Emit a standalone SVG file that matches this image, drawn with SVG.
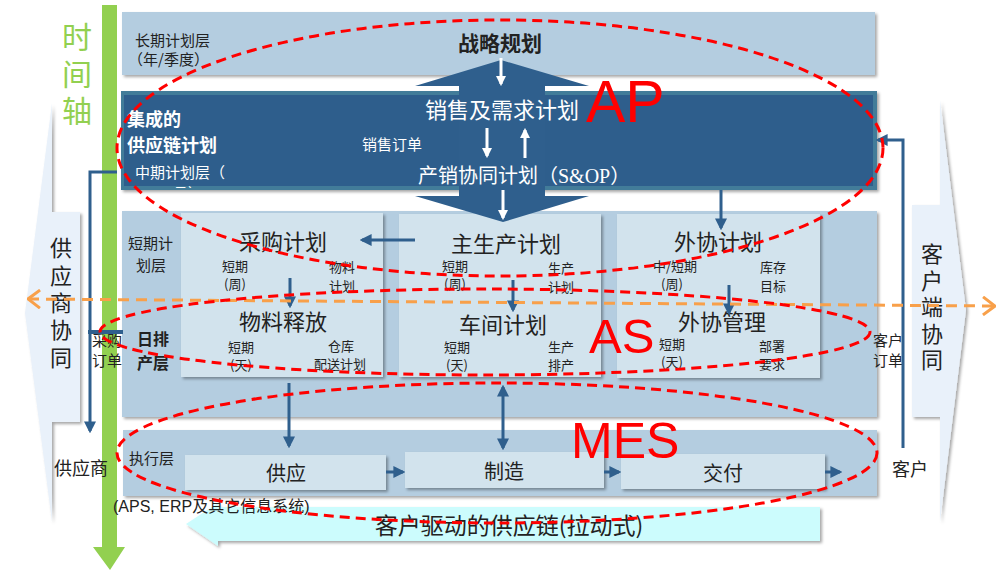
<svg xmlns="http://www.w3.org/2000/svg" width="1008" height="574" viewBox="0 0 1008 574">
<defs>
<filter id="sh" x="-5%" y="-5%" width="115%" height="140%"><feDropShadow dx="2" dy="2" stdDeviation="1.5" flood-color="#000" flood-opacity="0.35"/></filter>
<marker id="ab" viewBox="0 0 10 10" refX="8" refY="5" markerWidth="4" markerHeight="4" orient="auto-start-reverse"><path d="M0,0 L10,5 L0,10 z" fill="#2f5f8d"/></marker>
<marker id="aw" viewBox="0 0 10 10" refX="8" refY="5" markerWidth="3.5" markerHeight="3.5" orient="auto-start-reverse"><path d="M0,0 L10,5 L0,10 z" fill="#fff"/></marker>
<marker id="ao" viewBox="0 0 14 20" refX="13" refY="10" markerWidth="14" markerHeight="20" markerUnits="userSpaceOnUse" orient="auto-start-reverse"><path d="M1,1 L13,10 L1,19" fill="none" stroke="#f8a04a" stroke-width="3"/></marker>
<clipPath id="midclip"><rect x="121" y="91" width="756" height="97"/></clipPath>
</defs>
<style>
text{font-family:"Noto Sans CJK SC","Noto Sans",sans-serif;fill:#222}
.layer{fill:#b4cde0;filter:url(#sh)}
.panel{fill:#d2e3ed;filter:url(#sh)}
.side{fill:#e9f1fa;filter:url(#sh)}
.s13{font-size:13px}
.s15{font-size:15px}
.s22{font-size:22px}
.w{fill:#fff}
.mid{text-anchor:middle}
.vert{writing-mode:vertical-rl;text-orientation:upright}
.cn{stroke:#2f5f8d;stroke-width:3;fill:none}
.cw{stroke:#fff;stroke-width:3;fill:none}
.red{fill:none;stroke:#ff0000;stroke-width:3;stroke-dasharray:10 6}
.big{font-family:"Liberation Sans",Arial,sans-serif;fill:#ff0000}
</style>

<!-- side collaboration arrows -->
<g id="supplier-collab">
<polygon class="side" points="25,313 52,103 52,212 80,212 80,422 52,422 52,522"/>
<text class="vert" font-size="22" letter-spacing="5.3" x="61" y="237">供应商协同</text>
</g>
<g id="customer-collab">
<polygon class="side" points="966,310 940,100 940,205 912,205 912,417 940,417 940,522"/>
<text class="vert" font-size="22" letter-spacing="4.5" x="932" y="243">客户端协同</text>
</g>

<!-- time axis -->
<g id="time-axis">
<polygon fill="#92d050" points="102,5 117,5 117,547 125,547 110,570 93,547 102,547"/>
<text class="vert" font-size="30" letter-spacing="7" style="fill:#92d050" x="77" y="22">时间轴</text>
</g>

<!-- long-term layer -->
<g id="long-term">
<rect class="layer" x="122" y="12" width="753" height="63"/>
<text class="s15" x="135" y="46">长期计划层</text>
<text class="s15" x="128" y="65">（年/季度）</text>
</g>

<!-- mid-term layer -->
<g id="mid-term">
<rect x="121" y="91" width="756" height="99" fill="#427b99" filter="url(#sh)"/>
<rect x="124" y="95" width="749" height="91" fill="#2e5e8c"/>
<text class="w" font-size="18" font-weight="bold" x="127" y="126">集成的</text>
<text class="w" font-size="18" font-weight="bold" x="127" y="152">供应链计划</text>
<g clip-path="url(#midclip)">
<text class="w s15" x="135" y="178">中期计划层（</text>
<text class="w s15" x="173" y="199">月）</text>
</g>
</g>

<!-- short-term layer -->
<g id="short-term">
<rect class="layer" x="122" y="211" width="755" height="206"/>
<text class="s15" x="128" y="249">短期计</text>
<text class="s15" x="136" y="271">划层</text>
<text font-size="16" font-weight="bold" x="137" y="345">日排</text>
<text font-size="16" font-weight="bold" x="137" y="369">产层</text>
</g>

<g id="purchase-panel">
<rect class="panel" x="181" y="213" width="202" height="164"/>
<text class="s22 mid" x="283" y="250">采购计划</text>
<text class="s13 mid" x="235" y="271">短期</text>
<text class="s13 mid" x="235" y="289">(周)</text>
<text class="s13 mid" x="342" y="272">物料</text>
<text class="s13 mid" x="342" y="291">计划</text>
<text class="s22 mid" x="283" y="330">物料释放</text>
<text class="s13 mid" x="241" y="352">短期</text>
<text class="s13 mid" x="241" y="370">(天)</text>
<text class="s13 mid" x="341" y="351">仓库</text>
<text class="s13 mid" x="340" y="369">配送计划</text>
</g>

<g id="production-panel">
<rect class="panel" x="399" y="214" width="202" height="163"/>
<text class="s22 mid" x="506" y="252">主生产计划</text>
<text class="s13 mid" x="455" y="271">短期</text>
<text class="s13 mid" x="455" y="289">(周)</text>
<text class="s13 mid" x="561" y="273">生产</text>
<text class="s13 mid" x="561" y="292">计划</text>
<text class="s22 mid" x="503" y="333">车间计划</text>
<text class="s13 mid" x="457" y="352">短期</text>
<text class="s13 mid" x="457" y="370">(天)</text>
<text class="s13 mid" x="561" y="352">生产</text>
<text class="s13 mid" x="561" y="370">排产</text>
</g>

<g id="outsourcing-panel">
<rect class="panel" x="617" y="214" width="203" height="164"/>
<text class="s22 mid" x="718" y="250">外协计划</text>
<text class="s13 mid" x="675" y="271">中/短期</text>
<text class="s13 mid" x="672" y="289">(周)</text>
<text class="s13 mid" x="773" y="272">库存</text>
<text class="s13 mid" x="773" y="291">目标</text>
<text class="s22 mid" x="722" y="330">外协管理</text>
<text class="s13 mid" x="672" y="349">短期</text>
<text class="s13 mid" x="672" y="367">(天)</text>
<text class="s13 mid" x="772" y="351">部署</text>
<text class="s13 mid" x="772" y="369">要求</text>
</g>

<!-- execution layer -->
<g id="execution">
<rect class="layer" x="123" y="430" width="754" height="66"/>
<text class="s15" x="129" y="464">执行层</text>
</g>
<g id="supply"><rect class="panel" x="185" y="455" width="201" height="35"/><text class="mid" font-size="20" x="286" y="481">供应</text></g>
<g id="manufacture"><rect class="panel" x="405" y="452" width="199" height="36"/><text class="mid" font-size="20" x="504" y="479">制造</text></g>
<g id="delivery"><rect class="panel" x="621" y="454" width="204" height="35"/><text class="mid" font-size="20" x="723" y="481">交付</text></g>

<!-- pull supply chain -->
<g id="pull-chain">
<polygon points="186,524 218,503 218,507 820,507 820,541 218,541 218,546" fill="#ccfcfd" filter="url(#sh)"/>
<text class="mid" font-size="23" x="509" y="534">客户驱动的供应链(拉动式)</text>
</g>

<text x="113" y="512" font-size="16" style="font-family:'Liberation Sans','Noto Sans CJK SC',sans-serif">(APS, ERP及其它信息系统)</text>

<!-- big double block arrow -->
<g id="sop-arrow">
<polygon fill="#2f5f8d" points="501,60 589,86 545,86 545,196 589,196 503,222 415,196 459,196 459,86 415,86"/>
<text font-size="21" font-weight="bold" class="mid" x="500" y="51">战略规划</text>
<text class="w s22 mid" x="502" y="118">销售及需求计划</text>
<text class="w" font-size="15" x="362" y="150">销售订单</text>
<text class="w" font-size="20" x="418" y="183">产销协同计划（<tspan style="font-family:'Liberation Serif',serif;fill:#fff">S&amp;OP</tspan>）</text>
</g>

<!-- side labels -->
<g id="supplier"><text font-size="18" x="54" y="475">供应商</text></g>
<g id="customer"><text font-size="18" x="892" y="476">客户</text></g>
<text class="s15" x="92" y="346">采购</text>
<text class="s15" x="92" y="366">订单</text>
<text class="s15" x="873" y="346">客户</text>
<text class="s15" x="873" y="366">订单</text>

<!-- connectors -->
<g id="connectors">
<line class="cw" x1="501" y1="58" x2="501" y2="84" marker-end="url(#aw)"/>
<line class="cw" x1="487" y1="128" x2="487" y2="156" marker-end="url(#aw)"/>
<line class="cw" x1="525" y1="158" x2="525" y2="130" marker-end="url(#aw)"/>
<line class="cw" x1="503" y1="190" x2="503" y2="218" marker-end="url(#aw)"/>
<line class="cn" x1="415" y1="240" x2="362" y2="240" marker-end="url(#ab)"/>
<line class="cn" x1="721" y1="190" x2="721" y2="228" marker-end="url(#ab)"/>
<line class="cn" x1="290" y1="278" x2="290" y2="306" marker-end="url(#ab)"/>
<line class="cn" x1="513" y1="280" x2="513" y2="310" marker-end="url(#ab)"/>
<line class="cn" x1="729" y1="285" x2="729" y2="313" marker-end="url(#ab)"/>
<line class="cn" x1="289" y1="383" x2="289" y2="446" marker-end="url(#ab)"/>
<line class="cn" x1="503" y1="387" x2="503" y2="448" marker-start="url(#ab)" marker-end="url(#ab)"/>
<line class="cn" x1="386" y1="472" x2="403" y2="472" marker-end="url(#ab)"/>
<line class="cn" x1="604" y1="472" x2="619" y2="472" marker-end="url(#ab)"/>
<line class="cn" x1="825" y1="472" x2="840" y2="472" marker-end="url(#ab)"/>
<polyline class="cn" points="117,172 90,172 90,431" marker-end="url(#ab)"/>
<line x1="88" y1="332" x2="123" y2="332" stroke="#2f5f8d" stroke-width="4"/>
<polyline class="cn" points="903,448 903,140 878,140" marker-end="url(#ab)"/>
<line x1="28" y1="299" x2="995" y2="306" stroke="#f8a04a" stroke-width="3" stroke-dasharray="11 7" marker-start="url(#ao)" marker-end="url(#ao)"/>
</g>

<!-- scope annotations -->
<g id="scopes">
<ellipse class="red" cx="500" cy="148" rx="383" ry="128"/>
<ellipse class="red" cx="485" cy="332" rx="385" ry="43"/>
<ellipse class="red" cx="497" cy="453" rx="380" ry="70"/>
<text class="big" font-size="59" x="586" y="122">AP</text>
<text class="big" font-size="49" x="589" y="353">AS</text>
<text class="big" font-size="50" x="571" y="458">MES</text>
</g>
</svg>
